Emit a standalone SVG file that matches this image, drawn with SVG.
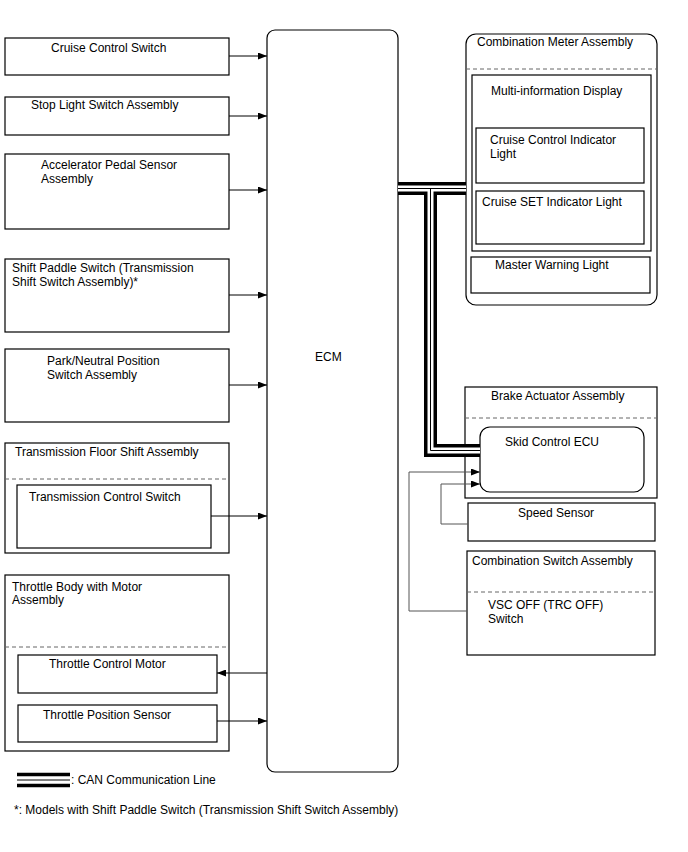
<svg xmlns="http://www.w3.org/2000/svg" width="688" height="852" viewBox="0 0 688 852">
<style>
text{font-family:"Liberation Sans",Arial,sans-serif;font-size:12px;fill:#000}
.b{fill:#fff;stroke:#000;stroke-width:1.2}
.d{stroke:#666;stroke-width:1;stroke-dasharray:4,3;fill:none}
.w{stroke:#000;stroke-width:1;fill:none}
.g{stroke:#555;stroke-width:1;fill:none}
.c1{stroke:#000;stroke-width:13;fill:none}
.c2{stroke:#fff;stroke-width:6;fill:none}
.c3{stroke:#000;stroke-width:1;fill:none}
</style>
<defs>
<marker id="a" markerWidth="9" markerHeight="7" refX="9" refY="3.5" orient="auto" markerUnits="userSpaceOnUse">
<path d="M0,0 L9,3.5 L0,7 Z" fill="#000"/>
</marker>
</defs>
<rect width="688" height="852" fill="#fff"/>
<g id="cruise-control-switch"><rect class="b" x="5" y="38" width="224" height="37"/><text x="51" y="52">Cruise Control Switch</text></g>
<g id="stop-light-switch"><rect class="b" x="5" y="97" width="224" height="38"/><text x="31" y="109">Stop Light Switch Assembly</text></g>
<g id="accelerator-pedal-sensor"><rect class="b" x="5" y="154" width="224" height="75"/><text x="41" y="169">Accelerator Pedal Sensor</text><text x="41" y="183">Assembly</text></g>
<g id="shift-paddle-switch"><rect class="b" x="5" y="259" width="224" height="73"/><text x="12" y="272">Shift Paddle Switch (Transmission</text><text x="12" y="286">Shift Switch Assembly)*</text></g>
<g id="park-neutral"><rect class="b" x="5" y="349" width="224" height="73"/><text x="47" y="365">Park/Neutral Position</text><text x="47" y="379">Switch Assembly</text></g>
<g id="transmission-floor-shift"><rect class="b" x="5" y="443" width="224" height="110"/><text x="15" y="456">Transmission Floor Shift Assembly</text><line class="d" x1="5" y1="479" x2="229" y2="479"/>
<g id="transmission-control-switch"><rect class="b" x="17" y="485" width="194" height="63"/><text x="29" y="501">Transmission Control Switch</text></g></g>
<g id="throttle-body"><rect class="b" x="5" y="575" width="224" height="176"/><text x="12" y="591">Throttle Body with Motor</text><text x="12" y="604">Assembly</text><line class="d" x1="5" y1="647" x2="229" y2="647"/>
<g id="throttle-control-motor"><rect class="b" x="18" y="655" width="199" height="38"/><text x="49" y="668">Throttle Control Motor</text></g>
<g id="throttle-position-sensor"><rect class="b" x="18" y="705" width="199" height="37"/><text x="43" y="719">Throttle Position Sensor</text></g></g>
<g id="ecm"><rect class="b" x="267" y="30" width="131" height="742" rx="8"/><text x="315" y="361">ECM</text></g>
<g id="combination-meter"><rect class="b" x="466" y="34" width="191" height="271" rx="10"/><text x="477" y="46">Combination Meter Assembly</text><line class="d" x1="466" y1="69" x2="657" y2="69"/>
<g id="multi-information-display"><rect class="b" x="472" y="75" width="179" height="176"/><text x="491" y="95">Multi-information Display</text>
<g id="cruise-control-indicator"><rect class="b" x="476" y="128" width="168" height="55"/><text x="490" y="144">Cruise Control Indicator</text><text x="490" y="158">Light</text></g>
<g id="cruise-set-indicator"><rect class="b" x="476" y="191" width="168" height="53"/><text x="482" y="206">Cruise SET Indicator Light</text></g></g>
<g id="master-warning-light"><rect class="b" x="471" y="257" width="179" height="36"/><text x="495" y="269">Master Warning Light</text></g></g>
<g id="brake-actuator"><rect class="b" x="465" y="387" width="192" height="111"/><text x="491" y="400">Brake Actuator Assembly</text><line class="d" x1="465" y1="418" x2="657" y2="418"/>
<g id="skid-control-ecu"><rect class="b" x="480" y="427" width="164" height="65" rx="10"/><text x="505" y="446">Skid Control ECU</text></g></g>
<g id="speed-sensor"><rect class="b" x="468" y="503" width="187" height="38"/><text x="518" y="517">Speed Sensor</text></g>
<g id="combination-switch"><rect class="b" x="467" y="551" width="188" height="104"/><text x="472" y="565">Combination Switch Assembly</text><line class="d" x1="467" y1="592" x2="655" y2="592"/>
<g id="vsc-off-switch"><text x="488" y="609">VSC OFF (TRC OFF)</text><text x="488" y="623">Switch</text></g></g>
<g id="connectors">
<path class="w" d="M229,56 H267" marker-end="url(#a)"/>
<path class="w" d="M229,116 H267" marker-end="url(#a)"/>
<path class="w" d="M229,190 H267" marker-end="url(#a)"/>
<path class="w" d="M229,295 H267" marker-end="url(#a)"/>
<path class="w" d="M229,385 H267" marker-end="url(#a)"/>
<path class="w" d="M211,516 H267" marker-end="url(#a)"/>
<path class="w" d="M267,673 H217" marker-end="url(#a)"/>
<path class="w" d="M217,721 H267" marker-end="url(#a)"/>
<path class="g" d="M467,611 H409 V472 H480" marker-end="url(#a)"/>
<path class="g" d="M468,524 H441 V484 H480" marker-end="url(#a)"/>
<g id="can">
<path class="c1" d="M398,188.5 H466 M430.5,188.5 V450.5 H480"/>
<path class="c2" d="M398,188.5 H466 M430.5,188.5 V450.5 H480"/>
<path class="c3" d="M398,188.5 H466 M430.5,188.5 V450.5 H480"/>
</g>
</g>
<g id="legend">
<line x1="17" y1="774.5" x2="70" y2="774.5" stroke="#000" stroke-width="3.5"/>
<line x1="17" y1="780" x2="70" y2="780" stroke="#000" stroke-width="1"/>
<line x1="17" y1="785.5" x2="70" y2="785.5" stroke="#000" stroke-width="3.5"/>
<text x="71" y="784">: CAN Communication Line</text>
<text x="14" y="814">*: Models with Shift Paddle Switch (Transmission Shift Switch Assembly)</text>
</g>
</svg>
